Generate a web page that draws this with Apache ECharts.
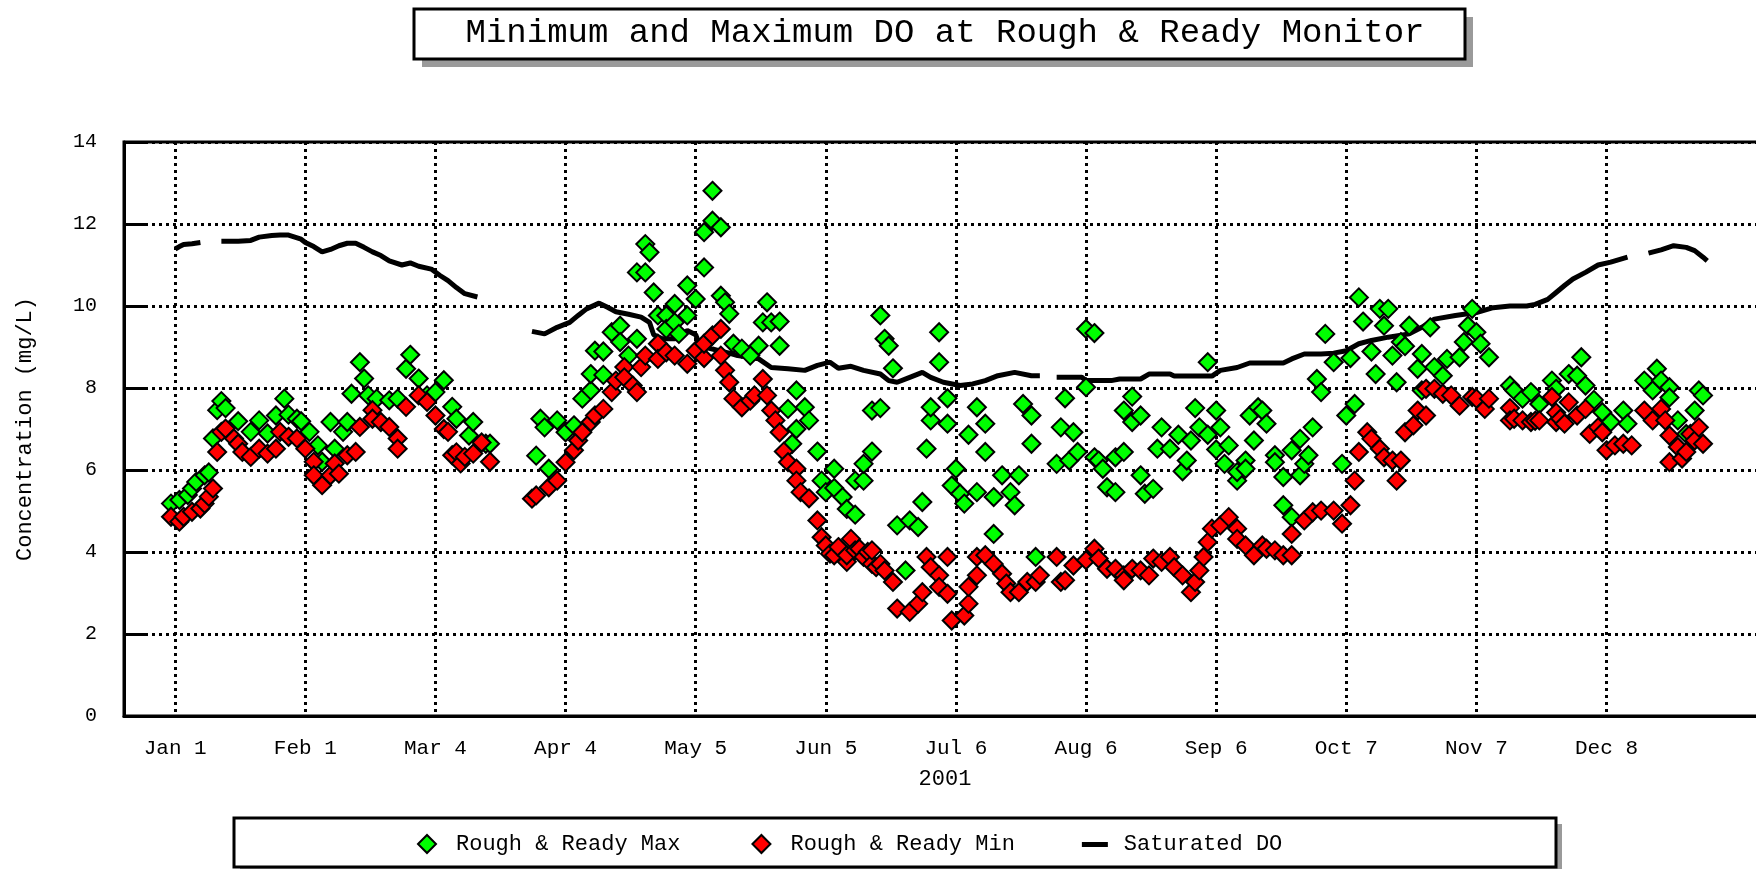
<!DOCTYPE html>
<html>
<head>
<meta charset="utf-8">
<title>Minimum and Maximum DO at Rough & Ready Monitor</title>
<script src="https://cdn.jsdelivr.net/npm/echarts@6/dist/echarts.min.js"></script>
<style>
  html, body { margin: 0; padding: 0; background: #fff; }
  #chart { width: 1756px; height: 869px; }
</style>
</head>
<body>
<div id="chart"></div>
<script>
// x values are days counted from Jan 1, 2001 (day 0)
const tickDays = [0, 31, 62, 93, 124, 155, 186, 217, 248, 279, 310, 341];
const tickLabels = ['Jan 1', 'Feb 1', 'Mar 4', 'Apr 4', 'May 5', 'Jun 5', 'Jul 6', 'Aug 6', 'Sep 6', 'Oct 7', 'Nov 7', 'Dec 8'];

// Rough & Ready Max  [day, mg/L]
const maxPoints = [
  [-1, 5.18], [1, 5.27], [3, 5.39], [4, 5.55], [5, 5.71], [7, 5.87], [8, 5.94], [9, 6.77], [10, 7.46],
  [11, 7.68], [12, 7.51], [15, 7.19], [18, 6.93], [20, 7.21], [22, 6.89], [24, 7.33], [26, 7.74], [27, 7.35],
  [29, 7.25], [30, 7.19], [32, 6.93], [34, 6.6], [35, 6.2], [37, 7.17], [38, 6.52], [40, 6.93], [41, 7.17],
  [42, 7.86], [44, 8.63], [45, 8.23], [46, 7.82], [48, 7.74], [51, 7.7], [53, 7.74], [55, 8.47], [56, 8.81],
  [58, 8.23], [60, 7.82], [62, 7.9], [64, 8.19], [66, 7.54], [67, 7.25], [70, 6.84], [71, 7.17], [74, 6.64],
  [75, 6.64],
  [86, 6.35], [87, 7.25], [88, 7.04], [89, 6.03], [91, 7.21], [93, 6.92], [95, 7.09], [97, 7.74], [99, 7.94],
  [99, 8.34], [100, 8.91], [102, 8.32], [102, 8.89], [104, 9.36], [106, 9.52], [106, 9.12], [108, 8.79],
  [110, 9.2], [110, 10.82], [112, 10.82], [112, 11.51], [113, 11.31], [114, 10.33], [115, 9.77], [117, 9.77],
  [117, 9.44], [119, 10.05], [119, 9.6], [120, 9.32], [122, 9.77], [122, 10.5], [124, 10.17], [126, 10.94],
  [126, 11.8], [128, 12.08], [128, 12.81], [130, 11.92], [130, 10.25], [131, 10.09], [132, 9.81], [133, 9.08],
  [135, 8.96], [137, 8.79], [139, 9.03], [140, 9.6], [141, 10.09], [142, 9.6], [144, 9.62], [144, 9.03],
  [146, 7.49], [147, 6.64], [148, 7.0], [148, 7.94], [150, 7.53], [151, 7.21], [153, 6.45], [154, 5.74],
  [155, 5.46], [157, 6.03], [157, 5.56], [159, 5.34], [160, 5.05], [162, 4.91], [162, 5.74], [164, 5.74],
  [164, 6.15], [166, 6.45], [166, 7.45], [168, 7.51], [168, 9.77], [169, 9.2], [170, 9.03], [171, 8.48],
  [172, 4.65], [174, 3.55], [175, 4.77], [177, 4.61], [178, 5.22], [179, 6.52], [180, 7.21], [180, 7.53],
  [182, 8.63], [182, 9.36], [184, 7.75], [184, 7.13], [185, 5.62], [186, 6.03], [187, 5.42], [188, 5.18],
  [189, 6.86], [191, 5.46], [191, 7.53], [193, 7.13], [193, 6.44], [195, 5.34], [195, 4.44], [197, 5.87],
  [199, 5.46], [200, 5.14], [201, 5.87], [202, 7.61], [204, 7.33], [204, 6.64], [205, 3.88],
  [210, 6.15], [211, 7.04], [212, 7.75], [213, 6.23], [214, 6.92], [215, 6.44], [217, 9.44], [217, 8.02],
  [219, 9.34], [219, 6.31], [220, 6.23], [221, 6.03], [222, 5.58], [224, 5.46], [224, 6.31], [226, 6.44],
  [226, 7.45], [228, 7.79], [228, 7.17], [230, 7.33], [230, 5.87], [231, 5.42], [233, 5.54], [234, 6.52],
  [235, 7.04], [237, 6.52], [239, 6.86], [240, 5.97], [241, 6.23], [242, 6.72], [243, 7.51], [244, 7.04],
  [246, 8.63], [246, 6.86], [248, 6.5], [248, 7.45], [249, 7.04], [250, 6.15], [251, 6.6], [253, 5.74],
  [253, 5.95], [255, 6.23], [255, 6.03], [256, 7.33], [257, 6.72], [258, 7.53], [259, 7.45], [260, 7.13],
  [262, 6.36], [262, 6.19], [264, 5.83], [264, 5.14], [266, 6.48], [266, 4.85], [268, 6.76], [268, 5.87],
  [269, 6.15], [270, 6.36], [271, 7.04], [272, 8.22], [273, 7.9], [274, 9.32],
  [276, 8.63], [278, 6.15], [279, 7.33], [280, 8.73], [281, 7.61], [282, 10.21], [283, 9.62], [285, 8.89],
  [286, 8.34], [287, 9.93], [288, 9.52], [289, 9.93], [290, 8.79], [291, 8.14], [292, 9.12], [293, 9.02],
  [294, 9.52], [296, 8.47], [297, 8.83], [297, 7.94], [299, 9.48], [300, 8.51], [302, 8.3], [303, 8.71],
  [306, 8.75], [307, 9.12], [308, 9.52], [309, 9.93], [310, 9.36], [311, 9.08], [313, 8.75], [318, 8.06],
  [319, 7.94], [321, 7.74], [323, 7.9], [325, 7.61], [328, 8.18], [329, 7.98], [332, 8.34], [334, 8.3],
  [335, 8.75], [336, 8.06], [338, 7.71], [340, 7.41], [342, 7.17], [345, 7.45], [346, 7.13], [350, 8.18],
  [352, 7.94], [353, 8.47], [354, 8.18], [356, 8.02], [356, 7.77], [358, 7.21], [360, 6.88], [362, 7.45],
  [363, 7.94], [364, 7.82]
];

// Rough & Ready Min  [day, mg/L]
const minPoints = [
  [-1, 4.86], [1, 4.74], [2, 4.86], [4, 4.98], [6, 5.06], [7, 5.18], [8, 5.35], [9, 5.55], [10, 6.44],
  [11, 6.93], [12, 7.01], [14, 6.77], [15, 6.64], [16, 6.44], [18, 6.32], [20, 6.52], [22, 6.4], [24, 6.52],
  [25, 6.93], [27, 6.81], [29, 6.77], [31, 6.52], [33, 6.2], [33, 5.87], [35, 5.63], [37, 5.87], [38, 6.16],
  [39, 5.91], [41, 6.36], [43, 6.44], [44, 7.05], [47, 7.46], [47, 7.25], [49, 7.17], [51, 7.05], [53, 6.77],
  [53, 6.52], [55, 7.54], [58, 7.82], [60, 7.66], [62, 7.33], [64, 7.0], [65, 6.93], [66, 6.36], [67, 6.43],
  [68, 6.16], [69, 6.32], [71, 6.4], [73, 6.67], [75, 6.2],
  [85, 5.3], [86, 5.38], [89, 5.58], [91, 5.74], [93, 6.19], [95, 6.48], [96, 6.72], [97, 6.92], [99, 7.17],
  [100, 7.33], [102, 7.49], [104, 7.9], [105, 8.18], [107, 8.51], [107, 8.26], [109, 8.06], [110, 7.9],
  [111, 8.51], [112, 8.79], [115, 9.08], [115, 8.71], [117, 8.87], [119, 8.79], [122, 8.59], [124, 8.91],
  [126, 8.73], [126, 9.08], [128, 9.28], [130, 9.44], [130, 8.79], [131, 8.43], [132, 8.14], [133, 7.74],
  [135, 7.53], [137, 7.69], [138, 7.82], [140, 8.22], [141, 7.82], [142, 7.45], [143, 7.21], [144, 6.92],
  [145, 6.45], [146, 6.19], [148, 6.03], [148, 5.74], [149, 5.46], [151, 5.31], [153, 4.77], [154, 4.36],
  [155, 4.16], [156, 3.96], [157, 3.92], [158, 4.12], [160, 3.76], [160, 3.92], [161, 4.32], [162, 4.04],
  [163, 4.08], [164, 3.88], [165, 4.0], [166, 3.71], [166, 4.04], [167, 3.63], [168, 3.71], [169, 3.55],
  [171, 3.27], [172, 2.62], [175, 2.54], [177, 2.74], [178, 3.02], [179, 3.88], [180, 3.63], [182, 3.43],
  [182, 3.15], [184, 3.88], [184, 2.98], [185, 2.33], [188, 2.45], [189, 2.74], [189, 3.15], [191, 3.43],
  [191, 3.88], [193, 3.92], [195, 3.71], [197, 3.47], [198, 3.23], [199, 3.02], [201, 3.02], [203, 3.27],
  [205, 3.27], [206, 3.43], [210, 3.88], [211, 3.27], [212, 3.31], [214, 3.67], [217, 3.8], [219, 4.08],
  [220, 3.84], [222, 3.59], [224, 3.59], [226, 3.43], [226, 3.31], [228, 3.59], [230, 3.55], [232, 3.43],
  [233, 3.84], [235, 3.76], [237, 3.88], [238, 3.63], [240, 3.43], [242, 3.02], [243, 3.27], [244, 3.55],
  [245, 3.88], [246, 4.24], [247, 4.57], [249, 4.65], [251, 4.85], [253, 4.57], [253, 4.32], [255, 4.16],
  [257, 3.92], [259, 4.16], [260, 4.08], [262, 4.04], [264, 3.92], [266, 3.92], [266, 4.44], [269, 4.77],
  [271, 4.97], [273, 5.01], [276, 5.01], [278, 4.69], [280, 5.14], [281, 5.74], [282, 6.44], [284, 6.92],
  [285, 6.76], [287, 6.52], [288, 6.31], [290, 6.23], [291, 5.74], [292, 6.23], [293, 6.92], [295, 7.09],
  [296, 7.45], [298, 7.33], [298, 7.98], [300, 7.98], [302, 7.86], [304, 7.82], [306, 7.57], [309, 7.78],
  [310, 7.74], [312, 7.49], [313, 7.74], [318, 7.51], [318, 7.21], [319, 7.25], [321, 7.21], [323, 7.17],
  [324, 7.2], [325, 7.21], [328, 7.78], [329, 7.17], [329, 7.4], [330, 7.25], [331, 7.13], [332, 7.65],
  [334, 7.33], [336, 7.49], [337, 6.88], [339, 7.04], [340, 6.92], [341, 6.48], [343, 6.6], [345, 6.64],
  [347, 6.6], [350, 7.45], [352, 7.21], [354, 7.49], [355, 7.21], [356, 6.19], [356, 6.84], [358, 6.56],
  [359, 6.28], [360, 6.44], [361, 6.88], [362, 6.72], [363, 7.04], [364, 6.64]
];

// Saturated DO  [day, mg/L]; null = no data
const satPoints = [
  [0, 11.39], [1, 11.45], [2, 11.5], [4, 11.52], [6, 11.55], [8, null],
  [11, 11.58], [15, 11.58], [18, 11.6], [20, 11.68], [23, 11.72], [25, 11.73], [27, 11.73], [30, 11.63],
  [31, 11.55], [33, 11.45], [35, 11.32], [37, 11.38], [39, 11.47], [41, 11.53], [43, 11.53], [45, 11.43],
  [47, 11.32], [49, 11.23], [51, 11.1], [54, 11.0], [56, 11.05], [58, 10.97], [61, 10.9], [63, 10.75],
  [65, 10.62], [67, 10.45], [69, 10.3], [72, 10.22], [78, null],
  [85, 9.38], [88, 9.32], [91, 9.48], [94, 9.6], [96, 9.77], [98, 9.93], [101, 10.07], [103, 9.97],
  [105, 9.86], [108, 9.8], [111, 9.73], [113, 9.6], [114, 9.3], [116, 9.2], [119, 9.2], [122, 9.4],
  [124, 9.3], [125, 9.03], [128, 8.95], [130, 8.9], [132, 8.85], [134, 8.79], [139, 8.71], [142, 8.5],
  [146, 8.47], [150, 8.43], [153, 8.55], [156, 8.63], [158, 8.48], [161, 8.53], [164, 8.43], [168, 8.34],
  [170, 8.18], [172, 8.14], [175, 8.26], [178, 8.38], [180, 8.26], [183, 8.14], [187, 8.06], [190, 8.1],
  [193, 8.18], [196, 8.3], [200, 8.38], [204, 8.3], [206, 8.3], [208, null],
  [210, 8.26], [216, 8.26], [217, 8.18], [223, 8.18], [225, 8.22], [230, 8.22], [232, 8.34], [237, 8.34],
  [238, 8.29], [247, 8.29], [249, 8.43], [253, 8.5], [256, 8.61], [264, 8.61], [266, 8.71], [269, 8.83],
  [273, 8.83], [276, 8.85], [279, 8.91], [282, 9.08], [285, 9.16], [289, 9.24], [294, 9.32], [297, 9.48],
  [300, 9.68], [305, 9.77], [310, 9.84], [314, 9.96], [318, 10.0], [322, 10.0], [324, 10.04], [327, 10.16],
  [329, 10.33], [331, 10.5], [333, 10.66], [336, 10.82], [339, 11.0], [342, 11.07], [346, 11.19], [348, null],
  [351, 11.29], [354, 11.37], [357, 11.47], [360, 11.43], [362, 11.35], [364, 11.19], [365, 11.1]
];

const FONT = '"Liberation Mono", "DejaVu Sans Mono", monospace';
const diamondIcon = 'path://M0,0 M26,18 M4,9 L13,0 L22,9 L13,18 Z';
const barIcon = 'path://M0,0 M26,18 M0,7 L26,7 L26,12 L0,12 Z';
const gridDots = { color: '#000', width: 3, type: [3, 4] };

const chart = echarts.init(document.getElementById('chart'));
chart.setOption({
  animation: false,
  backgroundColor: '#fff',
  title: {
    text: 'Minimum and Maximum DO at Rough & Ready Monitor',
    left: 940,
    top: 11,
    textAlign: 'center',
    textStyle: { fontFamily: FONT, fontSize: 34, fontWeight: 'normal', color: '#000' }
  },
  graphic: [
    { type: 'rect', z: 0, shape: { x: 422, y: 17, width: 1051, height: 50 }, style: { fill: '#9a9a9a' } },
    { type: 'rect', z: 1, shape: { x: 414, y: 9, width: 1051, height: 50 }, style: { fill: '#fff', stroke: '#000', lineWidth: 3 } },
    { type: 'rect', z: 0, shape: { x: 240, y: 824, width: 1322, height: 50 }, style: { fill: '#9a9a9a' } },
    { type: 'rect', z: 1, shape: { x: 234, y: 818, width: 1322, height: 49 }, style: { fill: '#fff', stroke: '#000', lineWidth: 3 } }
  ],
  legend: {
    left: 408,
    top: 828,
    itemWidth: 26,
    itemHeight: 18,
    itemGap: 67,
    selectedMode: false,
    textStyle: { fontFamily: FONT, fontSize: 22, color: '#000', padding: [0, 0, 0, 11] },
    data: [
      { name: 'Rough & Ready Max', icon: diamondIcon, itemStyle: { color: '#00ff00', borderColor: '#000', borderWidth: 2 } },
      { name: 'Rough & Ready Min', icon: diamondIcon, itemStyle: { color: '#ff0000', borderColor: '#000', borderWidth: 2 } },
      { name: 'Saturated DO', icon: barIcon, itemStyle: { color: '#000', borderWidth: 0 } }
    ]
  },
  grid: {
    left: 124,
    top: 142,
    right: -10,
    bottom: 153,
    show: true,
    borderColor: '#000',
    borderWidth: 3,
    containLabel: false,
    outerBoundsMode: 'none'
  },
  xAxis: {
    type: 'value',
    min: -12.2,
    max: 379,
    name: '2001',
    nameLocation: 'middle',
    nameGap: 52,
    nameTextStyle: { fontFamily: FONT, fontSize: 22, color: '#000' },
    axisLine: { show: true, onZero: false, lineStyle: { color: '#000', width: 3 } },
    axisTick: { show: false, customValues: tickDays },
    axisLabel: {
      customValues: tickDays,
      margin: 22,
      fontFamily: FONT,
      fontSize: 21,
      color: '#000',
      formatter: v => tickLabels[tickDays.indexOf(v)] || ''
    },
    splitLine: { show: true, lineStyle: gridDots }
  },
  yAxis: {
    type: 'value',
    min: 0,
    max: 14,
    interval: 2,
    name: 'Concentration (mg/L)',
    nameLocation: 'middle',
    nameGap: 88,
    nameTextStyle: { fontFamily: FONT, fontSize: 22, color: '#000' },
    axisLine: { show: true, onZero: false, lineStyle: { color: '#000', width: 3 } },
    axisTick: { show: true, inside: true, length: 24, lineStyle: { color: '#000', width: 3 } },
    axisLabel: { margin: 27, fontFamily: FONT, fontSize: 20, color: '#000' },
    splitLine: { show: true, lineStyle: gridDots }
  },
  series: [
    {
      name: 'Saturated DO',
      type: 'line',
      data: satPoints,
      symbol: 'none',
      connectNulls: false,
      lineStyle: { color: '#000', width: 5 },
      itemStyle: { color: '#000' },
      z: 2
    },
    {
      name: 'Rough & Ready Max',
      type: 'scatter',
      data: maxPoints,
      symbol: 'diamond',
      symbolSize: 18,
      itemStyle: { color: '#00ff00', borderColor: '#000', borderWidth: 2, opacity: 1 },
      z: 3
    },
    {
      name: 'Rough & Ready Min',
      type: 'scatter',
      data: minPoints,
      symbol: 'diamond',
      symbolSize: 18,
      itemStyle: { color: '#ff0000', borderColor: '#000', borderWidth: 2, opacity: 1 },
      z: 4
    }
  ]
});
</script>
</body>
</html>
